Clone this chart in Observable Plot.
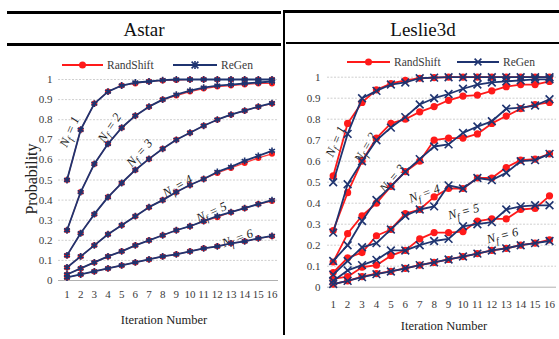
<!DOCTYPE html>
<html>
<head>
<meta charset="utf-8">
<script src="https://cdn.jsdelivr.net/npm/d3@7"></script>
<script src="https://cdn.jsdelivr.net/npm/@observablehq/plot@0.6"></script>
<style>
  html, body { margin: 0; padding: 0; background: #fff; }
  #wrap { position: relative; width: 559px; height: 339px; overflow: hidden; font-family: "Liberation Serif", "Times New Roman", serif; }
  .bar { position: absolute; background: #000; }
  .title { position: absolute; font-size: 19px; color: #111; text-align: center; line-height: 1; }
  .axt { position: absolute; font-size: 12.5px; color: #222; white-space: nowrap; line-height: 1; }
  svg text { font-family: "Liberation Serif", "Times New Roman", serif; }
</style>
</head>
<body>
<div id="wrap"></div>
<script>
// ---------- data ----------
const iterations = [1,2,3,4,5,6,7,8,9,10,11,12,13,14,15,16];
const nfValues = [1,2,3,4,5,6];
const yTicks = [0,0.1,0.2,0.3,0.4,0.5,0.6,0.7,0.8,0.9,1];
const yTickLabels = ["0","0.1","0.2","0.3","0.4","0.5","0.6","0.7","0.8","0.9","1"];
const panels = ["Astar", "Leslie3d"];
const seriesNames = ["RandShift", "ReGen"];

// Astar, rows = Nf 1..6, columns = iteration 1..16
const astarRandShift = [
  [0.50,0.75,0.88,0.94,0.97,0.98,0.99,0.995,0.997,1,1,1,1,1,1,1],
  [0.25,0.44,0.58,0.68,0.76,0.82,0.865,0.90,0.92,0.94,0.955,0.965,0.97,0.975,0.98,0.98],
  [0.125,0.235,0.33,0.415,0.485,0.55,0.605,0.655,0.70,0.735,0.77,0.80,0.825,0.845,0.865,0.88],
  [0.065,0.12,0.175,0.23,0.275,0.32,0.365,0.40,0.44,0.475,0.505,0.535,0.56,0.585,0.61,0.63],
  [0.03,0.06,0.09,0.12,0.145,0.175,0.20,0.225,0.25,0.27,0.295,0.315,0.34,0.36,0.38,0.395],
  [0.015,0.03,0.045,0.06,0.075,0.09,0.105,0.12,0.13,0.145,0.16,0.17,0.185,0.195,0.21,0.22]
];
const astarReGen = [
  [0.50,0.75,0.88,0.94,0.97,0.985,0.99,0.997,1,1,1,1,1,1,1,1],
  [0.25,0.44,0.58,0.68,0.76,0.82,0.865,0.90,0.925,0.945,0.96,0.97,0.975,0.98,0.985,0.99],
  [0.125,0.235,0.33,0.415,0.485,0.55,0.605,0.655,0.70,0.735,0.77,0.80,0.825,0.845,0.865,0.882],
  [0.065,0.12,0.175,0.23,0.275,0.32,0.365,0.40,0.44,0.475,0.505,0.54,0.565,0.595,0.62,0.645],
  [0.03,0.06,0.09,0.12,0.145,0.175,0.20,0.225,0.25,0.27,0.295,0.32,0.34,0.36,0.38,0.40],
  [0.015,0.03,0.045,0.06,0.075,0.09,0.105,0.12,0.13,0.145,0.16,0.17,0.185,0.195,0.21,0.222]
];
// Leslie3d
const leslieRandShift = [
  [0.53,0.78,0.88,0.94,0.97,0.985,0.995,0.998,1,1,1,1,1,1,1,1],
  [0.27,0.45,0.60,0.71,0.78,0.80,0.835,0.86,0.89,0.91,0.915,0.935,0.955,0.965,0.965,0.98],
  [0.12,0.255,0.34,0.40,0.48,0.55,0.60,0.70,0.71,0.71,0.73,0.78,0.815,0.85,0.87,0.88],
  [0.07,0.14,0.165,0.245,0.275,0.35,0.37,0.43,0.47,0.47,0.52,0.52,0.57,0.605,0.61,0.635],
  [0.04,0.05,0.095,0.105,0.15,0.175,0.23,0.26,0.26,0.265,0.315,0.325,0.325,0.37,0.375,0.435],
  [0.015,0.03,0.05,0.065,0.075,0.09,0.105,0.118,0.132,0.146,0.16,0.175,0.185,0.20,0.21,0.225]
];
const leslieReGen = [
  [0.50,0.73,0.90,0.935,0.965,0.975,0.995,0.998,1,1,1,1,1,1,1,1],
  [0.26,0.49,0.60,0.70,0.76,0.81,0.87,0.90,0.92,0.945,0.965,0.975,0.98,0.985,0.99,0.99],
  [0.125,0.20,0.315,0.415,0.48,0.55,0.61,0.67,0.68,0.735,0.765,0.79,0.85,0.855,0.865,0.895],
  [0.06,0.125,0.19,0.21,0.275,0.34,0.37,0.385,0.485,0.47,0.52,0.51,0.545,0.60,0.605,0.635],
  [0.03,0.08,0.105,0.13,0.175,0.175,0.20,0.22,0.23,0.29,0.30,0.31,0.37,0.385,0.39,0.39],
  [0.015,0.03,0.048,0.062,0.075,0.09,0.105,0.118,0.132,0.146,0.16,0.175,0.185,0.20,0.21,0.22]
];

// Nf label anchor points (data coordinates) and rotation angles
const astarLabelX = [1.18, 4.11, 6.3, 9.09, 11.57, 13.48];
const astarLabelY = [0.74, 0.76, 0.635, 0.47, 0.34, 0.21];
const astarLabelAngle = [-66, -56, -48, -30, -25, -20];
const leslieLabelX = [1.16, 3.24, 5.11, 7.33, 10.04, 12.74];
const leslieLabelY = [0.694, 0.665, 0.518, 0.446, 0.36, 0.246];
const leslieLabelAngle = [-66, -60, -50, -20, -15, -15];

// ---------- build tables ----------
const SERIF = "'Liberation Serif', 'Times New Roman', serif";
function toRows(matrix, series) {
  const rows = [];
  matrix.forEach((vals, i) => vals.forEach((v, j) => rows.push({series, nf: nfValues[i], x: iterations[j], y: v})));
  return rows;
}
function labelRows(xs, ys, as) {
  return nfValues.map((nf, i) => ({text: "Nf = " + nf, x: xs[i], y: ys[i], a: as[i]}));
}

const RED = "#ff1a1a";
const NAVY = "#1f3470";

function makePlot(cfg) {
  const red = toRows(cfg.red, seriesNames[0]);
  const blue = toRows(cfg.blue, seriesNames[1]);
  const labels = labelRows(cfg.lx, cfg.ly, cfg.la);
  const svg = Plot.plot({
    width: cfg.width, height: cfg.height,
    marginLeft: cfg.ml, marginRight: cfg.mr, marginTop: cfg.mt, marginBottom: cfg.mb,
    style: {fontFamily: SERIF, fontSize: "11px", color: "#3a3a3a", background: "transparent", overflow: "visible"},
    x: {domain: cfg.xdom, ticks: iterations, tickFormat: d => String(d), tickSize: 0, tickPadding: cfg.xpad, label: null},
    y: {domain: [0, 1], ticks: yTicks, tickFormat: d => yTickLabels[yTicks.indexOf(d)] ?? String(d), tickSize: 0, tickPadding: cfg.ypad, label: null},
    marks: [
      Plot.ruleY(yTicks.filter(d => d > 0), {stroke: "#cfcfcf", strokeWidth: 1, strokeDasharray: "2,1.5"}),
      Plot.ruleY([0], {stroke: "#b0b0b0", strokeWidth: 1}),
      Plot.text(labels, {x: "x", y: "y", text: "text", rotate: "a", fill: "#222", fontSize: 12.5, fontStyle: "italic", fontFamily: SERIF}),
      Plot.line(red, {x: "x", y: "y", z: "nf", stroke: RED, strokeWidth: cfg.redW, strokeOpacity: cfg.redOp}),
      Plot.dot(red, {x: "x", y: "y", r: cfg.redR, fill: RED, stroke: "none"}),
      Plot.line(blue, {x: "x", y: "y", z: "nf", stroke: NAVY, strokeWidth: cfg.blueW}),
      Plot.dot(blue, {x: "x", y: "y", r: cfg.blueR, symbol: cfg.symbol, stroke: NAVY, strokeWidth: 1.6, fill: "none"})
    ]
  });
  // subscript f in "Nf" labels
  svg.querySelectorAll("text").forEach(t => {
    const m = /^Nf = (\d)$/.exec(t.textContent);
    if (m) {
      t.textContent = "";
      const ns = "http://www.w3.org/2000/svg";
      const a = document.createElementNS(ns, "tspan"); a.textContent = "N";
      const b = document.createElementNS(ns, "tspan"); b.textContent = "f"; b.setAttribute("dy", "3"); b.setAttribute("font-size", "9.5");
      const c = document.createElementNS(ns, "tspan"); c.textContent = " = " + m[1]; c.setAttribute("dy", "-3");
      t.append(a, b, c);
    }
  });
  return svg;
}

const wrap = document.getElementById("wrap");
function addDiv(cls, css, text) {
  const d = document.createElement("div");
  d.className = cls;
  Object.assign(d.style, css);
  if (text != null) d.textContent = text;
  wrap.appendChild(d);
  return d;
}

// table rules
addDiv("bar", {left: "7px", top: "11px", width: "274px", height: "3px"});
addDiv("bar", {left: "7px", top: "43px", width: "274px", height: "3px"});
addDiv("bar", {left: "283px", top: "10px", width: "276px", height: "3px"});
addDiv("bar", {left: "286px", top: "42px", width: "273px", height: "2px"});
addDiv("bar", {left: "283px", top: "10px", width: "2px", height: "325px"});

// panel titles
addDiv("title", {left: "7px", width: "274px", top: "20px"}, panels[0]);
addDiv("title", {left: "287px", width: "272px", top: "20px"}, panels[1]);

// plots
const left = makePlot({
  red: astarRandShift, blue: astarReGen, lx: astarLabelX, ly: astarLabelY, la: astarLabelAngle,
  width: 280, height: 290, ml: 58, mr: 2, mt: 31, mb: 58, xdom: [0.378, 16.476], xpad: 10, ypad: 6,
  redW: 1.2, redOp: 0.85, redR: 3, blueW: 1.8, blueR: 3.2, symbol: "asterisk"
});
left.style.position = "absolute"; left.style.left = "0px"; left.style.top = "48px";
wrap.appendChild(left);

const right = makePlot({
  red: leslieRandShift, blue: leslieReGen, lx: leslieLabelX, ly: leslieLabelY, la: leslieLabelAngle,
  width: 272, height: 290, ml: 40, mr: 3, mt: 28.7, mb: 51.3, xdom: [0.605, 16.485], xpad: 13, ypad: 7,
  redW: 1.8, redOp: 1, redR: 3.6, blueW: 1.8, blueR: 3.6, symbol: "times"
});
right.style.position = "absolute"; right.style.left = "287px"; right.style.top = "48px";
wrap.appendChild(right);

// axis titles
addDiv("axt", {left: "164px", top: "314px", transform: "translateX(-50%)"}, "Iteration Number");
addDiv("axt", {left: "444px", top: "320px", transform: "translateX(-50%)"}, "Iteration Number");
addDiv("axt", {left: "32px", top: "179px", fontSize: "16px", transform: "translate(-50%,-50%) rotate(-90deg)"}, "Probability");

// legends
function legend(y, items, symbol) {
  const ns = "http://www.w3.org/2000/svg";
  const s = document.createElementNS(ns, "svg");
  s.setAttribute("width", 559); s.setAttribute("height", 339);
  s.style.position = "absolute"; s.style.left = "0"; s.style.top = "0"; s.style.overflow = "visible";
  items.forEach(it => {
    const l = document.createElementNS(ns, "line");
    l.setAttribute("x1", it.x1); l.setAttribute("x2", it.x2); l.setAttribute("y1", y); l.setAttribute("y2", y);
    l.setAttribute("stroke", it.color); l.setAttribute("stroke-width", 1.8);
    s.appendChild(l);
    const cx = (it.x1 + it.x2) / 2;
    if (it.kind === "circle") {
      const c = document.createElementNS(ns, "circle");
      c.setAttribute("cx", cx); c.setAttribute("cy", y); c.setAttribute("r", 3.5); c.setAttribute("fill", it.color);
      s.appendChild(c);
    } else {
      const p = document.createElementNS(ns, "path");
      const r = 3.4;
      let d = `M${cx-r},${y-r}L${cx+r},${y+r}M${cx-r},${y+r}L${cx+r},${y-r}`;
      if (symbol === "asterisk") d += `M${cx},${y-r-0.6}L${cx},${y+r+0.6}`;
      p.setAttribute("d", d); p.setAttribute("stroke", it.color); p.setAttribute("stroke-width", 1.6); p.setAttribute("fill", "none");
      s.appendChild(p);
    }
    const t = document.createElementNS(ns, "text");
    t.setAttribute("x", it.x2 + 4); t.setAttribute("y", y + 4);
    t.setAttribute("font-family", SERIF); t.setAttribute("font-size", "11.5");
    t.setAttribute("fill", "#3a3a3a");
    t.textContent = it.label;
    s.appendChild(t);
  });
  wrap.appendChild(s);
}
legend(65, [
  {x1: 62, x2: 103, color: RED, kind: "circle", label: seriesNames[0]},
  {x1: 173, x2: 217, color: NAVY, kind: "x", label: seriesNames[1]}
], "asterisk");
legend(62, [
  {x1: 347, x2: 390, color: RED, kind: "circle", label: seriesNames[0]},
  {x1: 457, x2: 499, color: NAVY, kind: "x", label: seriesNames[1]}
], "times");
</script>
</body>
</html>
